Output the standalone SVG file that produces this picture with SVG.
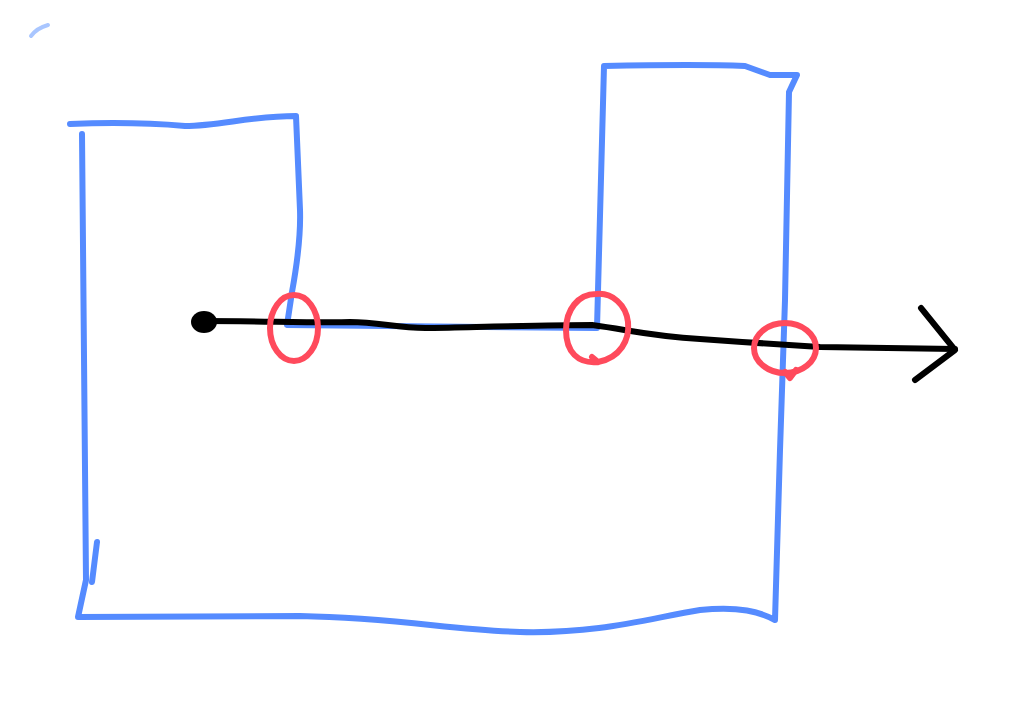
<svg xmlns="http://www.w3.org/2000/svg" width="1024" height="711" viewBox="0 0 1024 711">
<style>
.blue{fill:none;stroke:#558bff;stroke-width:6;stroke-linecap:round;stroke-linejoin:round}
.red{fill:none;stroke:#ff4a5c;stroke-width:6;stroke-linecap:round;stroke-linejoin:round}
.ink{fill:none;stroke:#000;stroke-width:6;stroke-linecap:round;stroke-linejoin:round}
</style>
<rect width="1024" height="711" fill="#fff"/>
<g id="outline">
<path d="M31 36 Q37 28 48 25" fill="none" stroke="#a9c6ff" stroke-width="4" stroke-linecap="round"/>
<path class="blue" d="M70 124 C120 122 150 123 185 126 C220 126 250 116 296 116 L300 210 C301 240 296 270 292 292 L287 325 L597 328 L604 66 C650 65 700 64 745 66 L770 75 L797 75 L789 92 L785 300 L780 450 L775 620 C760 612 740 606 700 610 C650 618 600 634 520 632 C450 630 400 618 300 616 L78 617 L86 580 L82 134"/>
<path class="blue" d="M97 542 L92 582"/>
</g>
<g id="connectors">
<path class="ink" d="M203 321 C260 321 320 323 350 322 C380 322 400 329 430 328 C480 327 550 325 592 325 C630 330 650 336 700 339 C740 342 790 345 820 347 L955 349"/>
<ellipse cx="204" cy="322" rx="13" ry="11" fill="#000"/>
<path class="ink" d="M921 308 L955 350 L915 380"/>
</g>
<g id="marks">
<ellipse class="red" cx="294" cy="328" rx="24" ry="33"/>
<path class="red" d="M596 294 C578 294 566 310 566 330 C566 352 578 364 598 362 C620 358 630 340 628 322 C626 305 612 292 596 294 Z M598 362 L592 357"/>
<ellipse class="red" cx="785" cy="348" rx="31" ry="25"/>
<path class="red" d="M785 372 L790 378 L796 370"/>
</g>
</svg>
